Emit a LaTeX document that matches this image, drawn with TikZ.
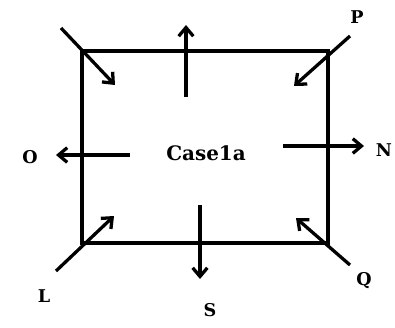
\documentclass[tikz,border=0pt]{standalone}
\usepackage{fontspec}
\setmainfont{DejaVu Serif}
\usepackage{tikz}
\usetikzlibrary{arrows.meta}

\begin{document}
\begin{tikzpicture}[x=0.03cm, y=-0.03cm,
  frame/.style={line width=2.8pt, line cap=round},
  flow/.style={line width=2.8pt, -{Straight Barb[length=2.6mm, width=4.4mm, line width=2.8pt]}},
  lbl/.style={font=\fontsize{15}{18}\selectfont\bfseries}]
\useasboundingbox (0,0) rectangle (395,327);
% box corners
\coordinate (tl) at (82, 51);
\coordinate (tr) at (328, 51);
\coordinate (br) at (328, 243);
\coordinate (bl) at (82, 243);
\draw[frame] (tl) -- (tr) -- (br) -- (bl) -- cycle;
\node[lbl, font=\fontsize{17}{20}\selectfont\bfseries] (case) at (206, 153) {Case1a};
% labels round the box
\node[lbl] (p) at (357, 17) {P};
\node[lbl] (n) at (384, 150) {N};
\node[lbl] (o) at (30, 157) {O};
\node[lbl] (l) at (44, 296) {L};
\node[lbl] (s) at (210, 310) {S};
\node[lbl] (q) at (364, 281) {Q};
% arrow ends
\coordinate (a1) at (61, 28);  \coordinate (a2) at (115, 85);
\coordinate (b1) at (186, 97); \coordinate (b2) at (186, 25);
\coordinate (c1) at (350, 36); \coordinate (c2) at (294, 86);
\coordinate (d1) at (130, 155); \coordinate (d2) at (56, 155);
\coordinate (e1) at (283, 146); \coordinate (e2) at (364, 146);
\coordinate (f1) at (56, 271); \coordinate (f2) at (114, 216);
\coordinate (g1) at (200, 205); \coordinate (g2) at (200, 279);
\coordinate (h1) at (350, 265); \coordinate (h2) at (296, 218);
\draw[flow] (a1) -- (a2);
\draw[flow] (b1) -- (b2);
\draw[flow] (c1) -- (c2);
\draw[flow] (d1) -- (d2);
\draw[flow] (e1) -- (e2);
\draw[flow] (f1) -- (f2);
\draw[flow] (g1) -- (g2);
\draw[flow] (h1) -- (h2);
\end{tikzpicture}
\end{document}
